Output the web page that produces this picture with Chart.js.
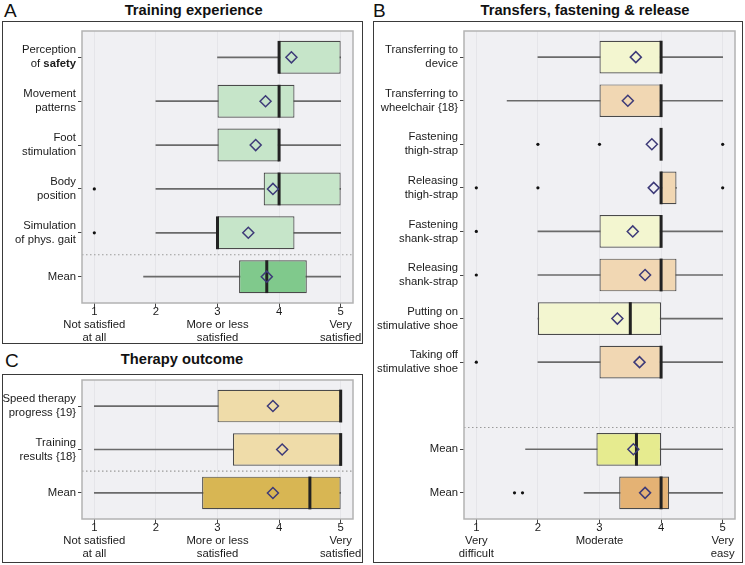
<!DOCTYPE html>
<html>
<head>
<meta charset="utf-8">
<script src="https://cdn.jsdelivr.net/npm/chart.js@4"></script>
<style>
  body { margin: 0; background: #fff; font-family: "Liberation Sans", Arial, sans-serif; }
  #page { position: relative; width: 745px; height: 565px; overflow: hidden; }
  .letter { position: absolute; font-size: 19px; line-height: 19px; color: #111; }
  .title { position: absolute; width: 320px; text-align: center; font-weight: bold; font-size: 14.7px; line-height: 14.7px; color: #111; }
  .frame { position: absolute; border: 1.5px solid #3a3a3a; box-sizing: border-box; }
  canvas { position: absolute; }
</style>
</head>
<body>
<div id="page">
  <div class="letter" style="left:4px;top:0.6px">A</div>
  <div class="title" style="left:33.7px;top:2.6px">Training experience</div>
  <div class="frame" style="left:2px;top:21px;width:361px;height:323px"></div>
  <canvas id="chartA" width="359" height="321" style="left:3px;top:22px"></canvas>

  <div class="letter" style="left:373px;top:0.6px">B</div>
  <div class="title" style="left:425px;top:2.6px">Transfers, fastening &amp; release</div>
  <div class="frame" style="left:373px;top:21px;width:370px;height:542px"></div>
  <canvas id="chartB" width="367" height="540" style="left:374px;top:22px"></canvas>

  <div class="letter" style="left:5px;top:350.6px">C</div>
  <div class="title" style="left:22px;top:351.6px">Therapy outcome</div>
  <div class="frame" style="left:2px;top:374px;width:361px;height:189px"></div>
  <canvas id="chartC" width="359" height="187" style="left:3px;top:375px"></canvas>
</div>

<script>
// Panel A - training experience
const catsA = [
  ["Perception", "of **safety**"],
  ["Movement", "patterns"],
  ["Foot", "stimulation"],
  ["Body", "position"],
  ["Simulation", "of phys. gait"],
  ["Mean"],
];
const lowA = [3, 2, 2, 2, 2, 1.8];
const q1A = [4, 3, 3, 3.75, 3, 3.35];
const medA = [4, 4, 4, 4, 3, 3.8];
const q3A = [5, 4.25, 4, 5, 4.25, 4.45];
const highA = [5, 5, 5, 5, 5, 5];
const meanA = [4.2, 3.78, 3.62, 3.9, 3.5, 3.8];
const outA = [[], [], [], [1], [1], []];
const fillA = ["#c6e5c9", "#c6e5c9", "#c6e5c9", "#c6e5c9", "#c6e5c9", "#80c98c"];

// Panel B - transfers, fastening & release
const catsB = [
  ["Transferring to", "device"],
  ["Transferring to", "wheelchair {18}"],
  ["Fastening", "thigh-strap"],
  ["Releasing", "thigh-strap"],
  ["Fastening", "shank-strap"],
  ["Releasing", "shank-strap"],
  ["Putting on", "stimulative shoe"],
  ["Taking off", "stimulative shoe"],
  [""],
  ["Mean"],
  ["Mean"],
];
const lowB = [2, 1.5, 4, 4, 2, 2, 2, 2, null, 1.8, 2.75];
const q1B = [3, 3, 4, 4, 3, 3, 2, 3, null, 2.95, 3.32];
const medB = [4, 4, 4, 4, 4, 4, 3.5, 4, null, 3.6, 4];
const q3B = [4, 4, 4, 4.25, 4, 4.25, 4, 4, null, 4, 4.13];
const highB = [5, 5, 4, 4.25, 5, 5, 5, 5, null, 5, 5];
const meanB = [3.59, 3.46, 3.85, 3.88, 3.54, 3.74, 3.29, 3.65, null, 3.55, 3.74];
const outB = [[], [], [2, 3, 5], [1, 2, 5], [1], [1], [], [1], [], [], [1.62, 1.75]];
const fillB = ["#f3f6d0", "#f1d7b3", "#f3f6d0", "#f1d7b3", "#f3f6d0", "#f1d7b3", "#f3f6d0", "#f1d7b3", null, "#e6eb8f", "#e4b274"];

// Panel C - therapy outcome
const catsC = [
  ["Speed therapy", "progress {19}"],
  ["Training", "results {18}"],
  ["Mean"],
];
const lowC = [1, 1, 1];
const q1C = [3, 3.25, 2.75];
const medC = [5, 5, 4.5];
const q3C = [5, 5, 5];
const highC = [5, 5, 5];
const meanC = [3.9, 4.05, 3.9];
const outC = [[], [], []];
const fillC = ["#efdca9", "#efdca9", "#d8b653"];

// x axis
const xTicks = [1, 2, 3, 4, 5];
const xLabelsSatisfied = [["1", "Not satisfied", "at all"], ["2"], ["3", "More or less", "satisfied"], ["4"], ["5", "Very", "satisfied"]];
const xLabelsDifficulty = [["1", "Very", "difficult"], ["2"], ["3", "Moderate"], ["4"], ["5", "Very", "easy"]];

const FONT = '"Liberation Sans", Arial, sans-serif';
const LABEL_SIZE = 11.3;
Chart.defaults.font.family = FONT;
Chart.defaults.animation = false;

// background, border, dotted separator and the y labels (with bold parts)
const boxExtras = {
  id: "boxExtras",
  beforeDraw(chart) {
    const { ctx, chartArea: a } = chart;
    ctx.save();
    ctx.fillStyle = "#f0f0f3";
    ctx.fillRect(a.left, a.top, a.right - a.left, a.bottom - a.top);
    ctx.restore();
  },
  beforeDatasetsDraw(chart, args, opts) {
    const { ctx, chartArea: a } = chart;
    const y = chart.scales.y.getPixelForValue(opts.separator);
    ctx.save();
    ctx.strokeStyle = "#9a9a9a";
    ctx.lineWidth = 1.2;
    ctx.setLineDash([1.5, 2.5]);
    ctx.beginPath();
    ctx.moveTo(a.left, y);
    ctx.lineTo(a.right, y);
    ctx.stroke();
    ctx.restore();
  },
  afterDraw(chart, args, opts) {
    const { ctx, chartArea: a } = chart;
    const yScale = chart.scales.y;
    ctx.save();
    ctx.strokeStyle = "#b3b3b3";
    ctx.lineWidth = 1.5;
    ctx.strokeRect(a.left, a.top, a.right - a.left, a.bottom - a.top);

    ctx.fillStyle = "#1a1a1a";
    ctx.textBaseline = "middle";
    ctx.textAlign = "left";
    const fontFor = (bold) => (bold ? "bold " : "") + LABEL_SIZE + "px " + FONT;
    opts.labels.forEach((lines, i) => {
      const py = yScale.getPixelForValue(i);
      lines.forEach((line, j) => {
        const ly = py + (j - (lines.length - 1) / 2) * 14;
        const parts = line.split("**");
        let w = 0;
        parts.forEach((p, k) => {
          ctx.font = fontFor(k % 2 === 1);
          w += ctx.measureText(p).width;
        });
        let x = a.left - opts.gap - w;
        parts.forEach((p, k) => {
          ctx.font = fontFor(k % 2 === 1);
          ctx.fillText(p, x, ly);
          x += ctx.measureText(p).width;
        });
      });
    });
    ctx.restore();
  },
};

function makeBoxChart(canvasId, d) {
  const n = d.cats.length;
  const outSets = [];
  const maxOut = Math.max(...d.outliers.map((o) => o.length));
  for (let k = 0; k < maxOut; k++) {
    outSets.push({
      type: "scatter",
      data: d.outliers.map((o) => (o[k] === undefined ? null : o[k])),
      pointStyle: "circle",
      pointRadius: 1.6,
      pointBackgroundColor: "#111",
      pointBorderWidth: 0,
      order: 2,
    });
  }

  return new Chart(document.getElementById(canvasId), {
    type: "bar",
    data: {
      labels: d.cats.map((_, i) => i),
      datasets: [
        // whiskers
        {
          data: d.low.map((v, i) => (v === null ? null : [v, d.high[i]])),
          backgroundColor: "#6a6a6a",
          barThickness: 1,
          grouped: false,
          order: 5,
        },
        // boxes
        {
          data: d.q1.map((v, i) => (v === null ? null : [v, d.q3[i]])),
          backgroundColor: d.fill,
          borderColor: "#4a4a4a",
          borderWidth: 1.2,
          borderSkipped: false,
          barPercentage: 0.75,
          categoryPercentage: 1,
          grouped: false,
          order: 4,
        },
        // medians
        {
          type: "scatter",
          data: d.med,
          pointStyle: "line",
          pointRotation: 90,
          pointRadius: 16.4,
          pointBorderWidth: 3,
          pointBorderColor: "#222",
          order: 3,
        },
        ...outSets,
        // means
        {
          type: "scatter",
          data: d.mean,
          pointStyle: "rectRot",
          pointRadius: 5.5,
          pointBorderWidth: 1.5,
          pointBorderColor: "#3d3a78",
          pointBackgroundColor: "rgba(0,0,0,0)",
          order: 1,
        },
      ],
    },
    options: {
      indexAxis: "y",
      responsive: false,
      events: [],
      layout: { padding: d.padding, autoPadding: false },
      plugins: {
        legend: { display: false },
        tooltip: { enabled: false },
        boxExtras: { separator: d.separator, labels: d.cats, gap: 6 },
      },
      scales: {
        x: {
          type: "linear",
          min: 0.8,
          max: 5.2,
          afterBuildTicks: (s) => {
            s.ticks = xTicks.map((v) => ({ value: v }));
          },
          afterFit: (s) => {
            s.height = d.xHeight;
            s.paddingLeft = 0;
            s.paddingRight = 0;
          },
          grid: { color: "#e2e2e6", lineWidth: 0.8, tickColor: "#444", tickLength: 4, tickWidth: 1 },
          border: { display: false },
          ticks: {
            callback: (v, i) => d.xLabels[i],
            color: "#1a1a1a",
            font: { size: LABEL_SIZE, lineHeight: 1.15 },
            padding: -2,
            autoSkip: false,
            maxRotation: 0,
          },
        },
        y: {
          type: "linear",
          reverse: true,
          min: -0.6,
          max: n - 0.4,
          offset: false,
          afterBuildTicks: (s) => {
            s.ticks = d.cats.map((_, i) => ({ value: i }));
          },
          afterFit: (s) => {
            s.width = d.yWidth;
            s.paddingTop = 0;
            s.paddingBottom = 0;
          },
          grid: {
            drawOnChartArea: false,
            offset: false,
            tickLength: 4,
            tickWidth: 1,
            tickColor: (c) => (d.cats[c.index] && d.cats[c.index][0] ? "#444" : "rgba(0,0,0,0)"),
          },
          border: { display: false },
          ticks: { display: false },
        },
      },
    },
    plugins: [boxExtras],
  });
}

makeBoxChart("chartA", {
  cats: catsA, low: lowA, q1: q1A, med: medA, q3: q3A, high: highA,
  mean: meanA, outliers: outA, fill: fillA, xLabels: xLabelsSatisfied,
  separator: 4.5, padding: { top: 9, right: 9, left: 0, bottom: 0 }, yWidth: 79, xHeight: 40,
});

makeBoxChart("chartB", {
  cats: catsB, low: lowB, q1: q1B, med: medB, q3: q3B, high: highB,
  mean: meanB, outliers: outB, fill: fillB, xLabels: xLabelsDifficulty,
  separator: 8.5, padding: { top: 9, right: 6, left: 0, bottom: 0 }, yWidth: 90, xHeight: 43,
});

makeBoxChart("chartC", {
  cats: catsC, low: lowC, q1: q1C, med: medC, q3: q3C, high: highC,
  mean: meanC, outliers: outC, fill: fillC, xLabels: xLabelsSatisfied,
  separator: 1.5, padding: { top: 5, right: 9, left: 0, bottom: 0 }, yWidth: 79, xHeight: 43,
});
</script>
</body>
</html>
